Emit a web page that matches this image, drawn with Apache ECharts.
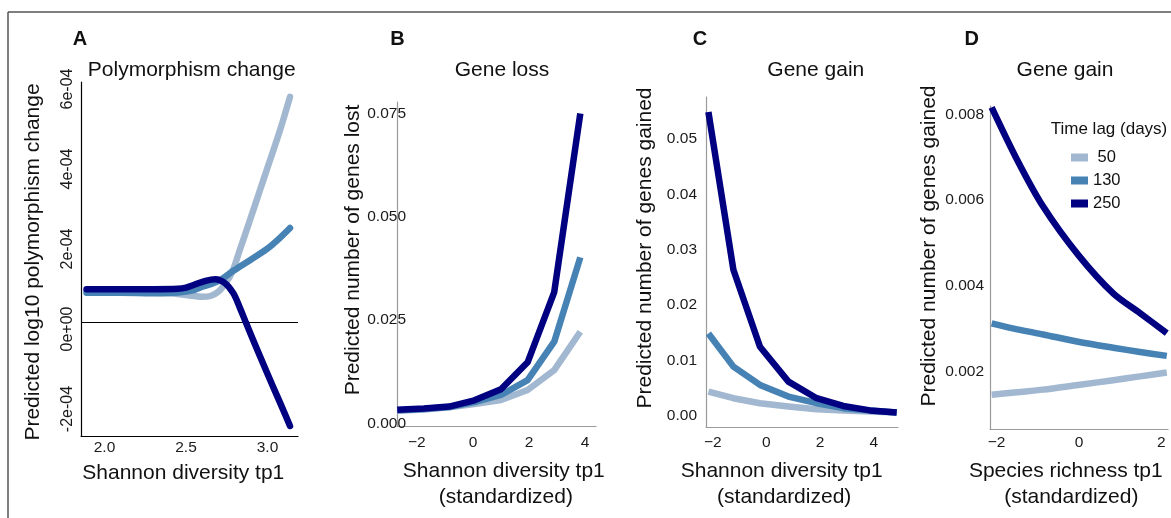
<!DOCTYPE html>
<html>
<head>
<meta charset="utf-8">
<title>Polymorphism change and gene gain / loss</title>
<script src="https://cdn.jsdelivr.net/npm/echarts@6/dist/echarts.min.js"></script>
<style>
	html, body { margin: 0; padding: 0; background: #fff; }
	#main { width: 1171px; height: 518px; }
</style>
</head>
<body>
<div id="main"></div>
<script>
// time lag groups (days)
var lagNames = ['50', '130', '250'];
var lagColors = ['#a2b8d0', '#4682b4', '#000080'];

// A: polymorphism change, [Shannon diversity, predicted value]
var polyLag50 = [[1.89, 0.76e-4], [2.1, 0.75e-4], [2.3, 0.73e-4], [2.45, 0.70e-4], [2.55, 0.65e-4], [2.6, 0.63e-4],
	[2.65, 0.65e-4], [2.70, 0.76e-4], [2.74, 0.96e-4], [2.78, 1.22e-4], [2.83, 1.80e-4], [2.89, 2.52e-4],
	[2.95, 3.25e-4], [3.01, 3.98e-4], [3.077, 4.80e-4], [3.138, 5.63e-4]];
var polyLag130 = [[1.89, 0.73e-4], [2.1, 0.73e-4], [2.3, 0.72e-4], [2.45, 0.74e-4], [2.55, 0.80e-4], [2.6, 0.88e-4],
	[2.66, 0.96e-4], [2.71, 1.05e-4], [2.79, 1.28e-4], [2.89, 1.54e-4], [2.995, 1.82e-4], [3.07, 2.08e-4], [3.138, 2.35e-4]];
var polyLag250 = [[1.89, 0.82e-4], [2.1, 0.82e-4], [2.3, 0.82e-4], [2.45, 0.83e-4], [2.5, 0.86e-4], [2.55, 0.93e-4],
	[2.62, 1.03e-4], [2.68, 1.07e-4], [2.74, 0.97e-4], [2.79, 0.72e-4], [2.83, 0.36e-4], [2.87, -0.04e-4],
	[2.95, -0.82e-4], [3.03, -1.58e-4], [3.09, -2.14e-4], [3.138, -2.60e-4]];
var polyXTicks = [2.0, 2.5, 3.0];
var polyYTicks = [-2e-4, 0, 2e-4, 4e-4, 6e-4];

// B: gene loss
var lossX = [-2.7, -1.75, -0.85, 0.05, 1.0, 1.95, 2.9, 3.83];
var lossLag50 = [0.0031, 0.0034, 0.0039, 0.0047, 0.0057, 0.0081, 0.0129, 0.0222];
var lossLag130 = [0.0032, 0.0035, 0.0040, 0.0052, 0.0069, 0.0105, 0.0198, 0.0402];
var lossLag250 = [0.0033, 0.0036, 0.0041, 0.0056, 0.0083, 0.0148, 0.0318, 0.0750];
var lossXTicks = [-2, 0, 2, 4];
var lossYTicks = [0, 0.025, 0.05, 0.075];

// C: gene gain vs Shannon diversity
var gainX = [-2.16, -1.23, -0.24, 0.82, 1.87, 2.86, 3.86, 4.85];
var gainLag50 = [0.0044, 0.0032, 0.0023, 0.0017, 0.0012, 0.0010, 0.0008, 0.0006];
var gainLag130 = [0.0149, 0.0089, 0.0056, 0.0035, 0.0023, 0.0014, 0.0010, 0.0006];
var gainLag250 = [0.0549, 0.0264, 0.0125, 0.0062, 0.0032, 0.0018, 0.0010, 0.0006];
var gainXTicks = [-2, 0, 2, 4];
var gainYTicks = [0, 0.01, 0.02, 0.03, 0.04, 0.05];

// D: gene gain vs species richness
var richX = [-2.12, -1.5, -0.87, -0.02, 0.83, 1.48, 2.13];
var richLag50 = [0.00145, 0.00151, 0.00157, 0.00168, 0.00179, 0.00188, 0.00197];
var richLag130 = [0.00312, 0.00298, 0.00286, 0.00269, 0.00255, 0.00245, 0.00236];
var richLag250 = [0.00817, 0.00694, 0.00585, 0.00472, 0.00382, 0.00336, 0.00289];
var richXTicks = [-2, 0, 2];
var richYTicks = [0.002, 0.004, 0.006, 0.008];

var FONT = "'Liberation Sans', Arial, Helvetica, sans-serif";

// 拼成 [x, y]
var pairs = function(xs, ys) {
	var out = [];
	for (var i = 0; i < xs.length; i++) {
		out.push([xs[i], ys[i]]);
	}
	return out;
};
var minusSign = function(v) {
	return String(v).replace('-', '\u2212');
};

var axisCfg = function(grid, min, max, ticks, fmt, margin, lineColor) {
	return {
		type: 'value', gridIndex: grid, min: min, max: max,
		axisLine: { show: true, onZero: false, lineStyle: { color: lineColor, width: 1.2 } },
		axisTick: { show: false },
		splitLine: { show: false },
		axisLabel: { customValues: ticks, formatter: fmt, margin: margin, fontSize: 15.5, color: '#1a1a1a', fontFamily: FONT }
	};
};

var lineSeries = function(lag, grid, data, smooth, cap) {
	return {
		name: lagNames[lag], type: 'line', xAxisIndex: grid, yAxisIndex: grid,
		data: data, smooth: smooth, symbol: 'none', clip: false, silent: true, z: 3 + lag,
		lineStyle: { width: 6.5, color: lagColors[lag], cap: cap, join: 'round' },
		itemStyle: { color: lagColors[lag] }
	};
};

var txt = function(text, x, y, size, opts) {
	opts = opts || {};
	return {
		type: 'text', x: x, y: y, rotation: opts.rot || 0, silent: true,
		style: {
			text: text, fill: '#111', align: 'center', verticalAlign: 'middle',
			textAlign: 'center', textVerticalAlign: 'middle',
			font: (opts.bold ? 'bold ' : '') + size + 'px ' + FONT
		}
	};
};

var fmtPoly = function(v) {
	var m = Math.round(v * 1e4);
	return m === 0 ? '0e+00' : m + 'e-04';
};

var myChart = echarts.init(document.getElementById('main'));
var axisGrey = '#9a9a9a';

var yPoly = axisCfg(0, -2.85e-4, 6e-4, polyYTicks, fmtPoly, 5, '#000');
yPoly.axisLabel.rotate = 90;
yPoly.axisLabel.fontSize = 16;
yPoly.axisLabel.padding = [0, 14, 0, 0];

var option = {
	animation: false,
	backgroundColor: '#fff',
	grid: [
		{ left: 81, top: 82, width: 217, height: 354 },
		{ left: 397, top: 102, width: 199, height: 324.5 },
		{ left: 706, top: 97, width: 192, height: 330 },
		{ left: 990, top: 106, width: 178, height: 323 }
	],
	xAxis: [
		axisCfg(0, 1.856, 3.187, polyXTicks, function(v) { return v.toFixed(1); }, 4, '#000'),
		axisCfg(1, -2.71, 4.39, lossXTicks, minusSign, 8, axisGrey),
		axisCfg(2, -2.25, 4.9, gainXTicks, minusSign, 8, axisGrey),
		axisCfg(3, -2.16, 2.16, richXTicks, minusSign, 6, axisGrey)
	],
	yAxis: [
		yPoly,
		axisCfg(1, -0.00073, 0.0778, lossYTicks, function(v) { return v.toFixed(3); }, -9, axisGrey),
		axisCfg(2, -0.002, 0.0576, gainYTicks, function(v) { return v.toFixed(2); }, 9, axisGrey),
		axisCfg(3, 0.00065, 0.0082, richYTicks, function(v) { return v.toFixed(3); }, 6, axisGrey)
	],
	legend: {
		data: lagNames, orient: 'vertical', left: 1071, top: 149, padding: 0,
		icon: 'rect', itemWidth: 17, itemHeight: 8, itemGap: 6, selectedMode: false,
		formatter: function(name) { return name === '50' ? ' ' + name : name; },
		textStyle: { fontSize: 16.5, color: '#111', fontFamily: FONT }
	},
	series: [
		lineSeries(0, 0, polyLag50, 0.35, 'round'),
		lineSeries(1, 0, polyLag130, 0.35, 'round'),
		lineSeries(2, 0, polyLag250, 0.35, 'round'),
		lineSeries(0, 1, pairs(lossX, lossLag50), false, 'butt'),
		lineSeries(1, 1, pairs(lossX, lossLag130), false, 'butt'),
		lineSeries(2, 1, pairs(lossX, lossLag250), false, 'butt'),
		lineSeries(0, 2, pairs(gainX, gainLag50), false, 'butt'),
		lineSeries(1, 2, pairs(gainX, gainLag130), false, 'butt'),
		lineSeries(2, 2, pairs(gainX, gainLag250), false, 'butt'),
		lineSeries(0, 3, pairs(richX, richLag50), 0.3, 'butt'),
		lineSeries(1, 3, pairs(richX, richLag130), 0.3, 'butt'),
		lineSeries(2, 3, pairs(richX, richLag250), 0.3, 'butt')
	],
	graphic: [
		// 外框
		{ type: 'line', silent: true, shape: { x1: 8, y1: 12, x2: 1171, y2: 12 }, style: { stroke: '#555', lineWidth: 1.5 } },
		{ type: 'line', silent: true, shape: { x1: 8, y1: 12, x2: 8, y2: 518 }, style: { stroke: '#555', lineWidth: 1.5 } },
		// panel letters
		txt('A', 80, 39, 20, { bold: true }),
		txt('B', 397.5, 39, 20, { bold: true }),
		txt('C', 700, 39, 20, { bold: true }),
		txt('D', 971.7, 39, 20, { bold: true }),
		// titles
		txt('Polymorphism change', 191.7, 70, 21),
		txt('Gene loss', 502, 70, 21),
		txt('Gene gain', 815.8, 70, 21),
		txt('Gene gain', 1065, 70, 21),
		// y axis names
		txt('Predicted log10 polymorphism change', 33.5, 262, 21, { rot: Math.PI / 2 }),
		txt('Predicted number of genes lost', 353.3, 250, 21, { rot: Math.PI / 2 }),
		txt('Predicted number of genes gained', 645, 248, 21, { rot: Math.PI / 2 }),
		txt('Predicted number of genes gained', 929, 246, 21, { rot: Math.PI / 2 }),
		// x axis names
		txt('Shannon diversity tp1', 183.3, 473, 21),
		txt('Shannon diversity tp1', 503.8, 470.8, 21),
		txt('(standardized)', 505.8, 497.5, 21),
		txt('Shannon diversity tp1', 781.7, 470.8, 21),
		txt('(standardized)', 784.2, 497.5, 21),
		txt('Species richness tp1', 1065.8, 470.8, 21),
		txt('(standardized)', 1071.3, 497.5, 21),
		// legend title
		txt('Time lag (days)', 1109, 129.5, 17)
	]
};

// zero line in panel A
option.series[0].markLine = {
	silent: true, symbol: 'none', label: { show: false },
	lineStyle: { color: '#000', width: 1.2, type: 'solid' },
	data: [{ yAxis: 0 }]
};

myChart.setOption(option);
</script>
</body>
</html>
